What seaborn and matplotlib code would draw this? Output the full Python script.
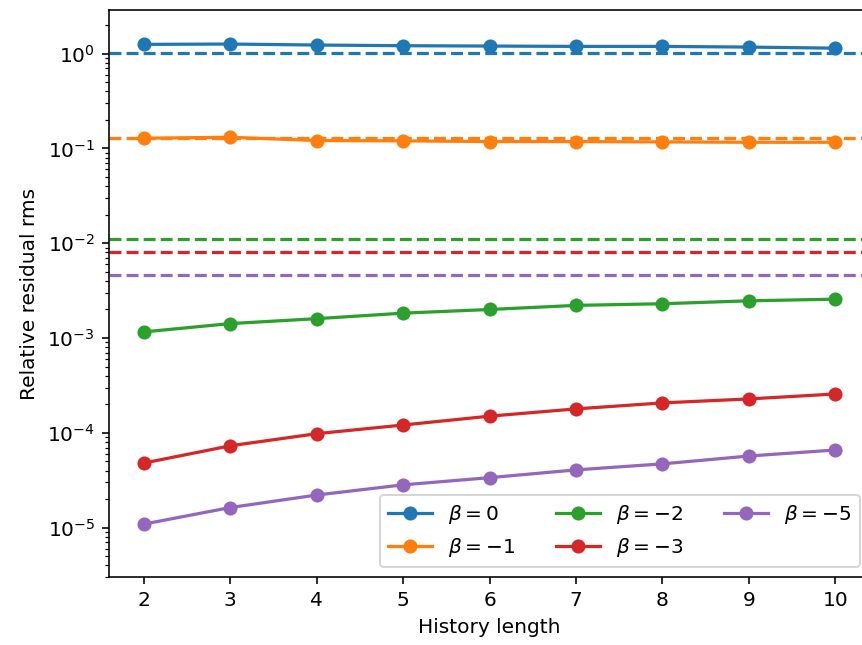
import numpy as np
import pandas as pd
import seaborn as sns
from matplotlib import pyplot as plt

# History lengths on the x axis
history = [2, 3, 4, 5, 6, 7, 8, 9, 10]

# Relative residual rms for each beta
beta_labels = [r"$\beta = 0$", r"$\beta = -1$", r"$\beta = -2$", r"$\beta = -3$", r"$\beta = -5$"]
rms_b0 = [1.25, 1.26, 1.23, 1.21, 1.20, 1.19, 1.19, 1.17, 1.14]
rms_b1 = [0.128, 0.131, 0.121, 0.120, 0.118, 0.118, 0.117, 0.116, 0.116]
rms_b2 = [1.16e-3, 1.42e-3, 1.60e-3, 1.83e-3, 2.00e-3, 2.21e-3, 2.30e-3, 2.47e-3, 2.57e-3]
rms_b3 = [4.8e-5, 7.3e-5, 9.8e-5, 1.21e-4, 1.50e-4, 1.79e-4, 2.07e-4, 2.28e-4, 2.57e-4]
rms_b5 = [1.09e-5, 1.63e-5, 2.21e-5, 2.83e-5, 3.37e-5, 4.07e-5, 4.71e-5, 5.7e-5, 6.6e-5]

# Reference levels drawn as dashed lines
ref_levels = [1.02, 0.130, 0.0112, 0.0081, 0.00464]

series = [rms_b0, rms_b1, rms_b2, rms_b3, rms_b5]
rows = []
for label, vals in zip(beta_labels, series):
    for h, v in zip(history, vals):
        rows.append({"History length": h, "rms": v, "beta": label})
df = pd.DataFrame(rows)

colors = sns.color_palette("tab10", 5)

dpi = 145
fig = plt.figure(figsize=(862 / dpi, 645 / dpi), dpi=dpi)
ax = fig.add_axes([0.1265, 0.105, 0.8828, 0.8795])

for lvl, c in zip(ref_levels, colors):
    ax.axhline(lvl, color=c, ls="--", lw=1.6)

sns.lineplot(data=df, x="History length", y="rms", hue="beta", hue_order=beta_labels,
             palette=colors, marker="o", markersize=7, markeredgewidth=0, lw=1.6, ax=ax)

ax.set_yscale("log")
ax.set_xlim(1.6, 10.4)
ax.set_ylim(3.0e-6, 2.88)
ax.set_xticks(history)
ax.set_xlabel("History length")
ax.set_ylabel("Relative residual rms")

handles, labels = ax.get_legend_handles_labels()
ax.legend(handles, labels, loc="lower right", ncol=3, handlelength=2.2)

fig.savefig("out.png", dpi=dpi)
